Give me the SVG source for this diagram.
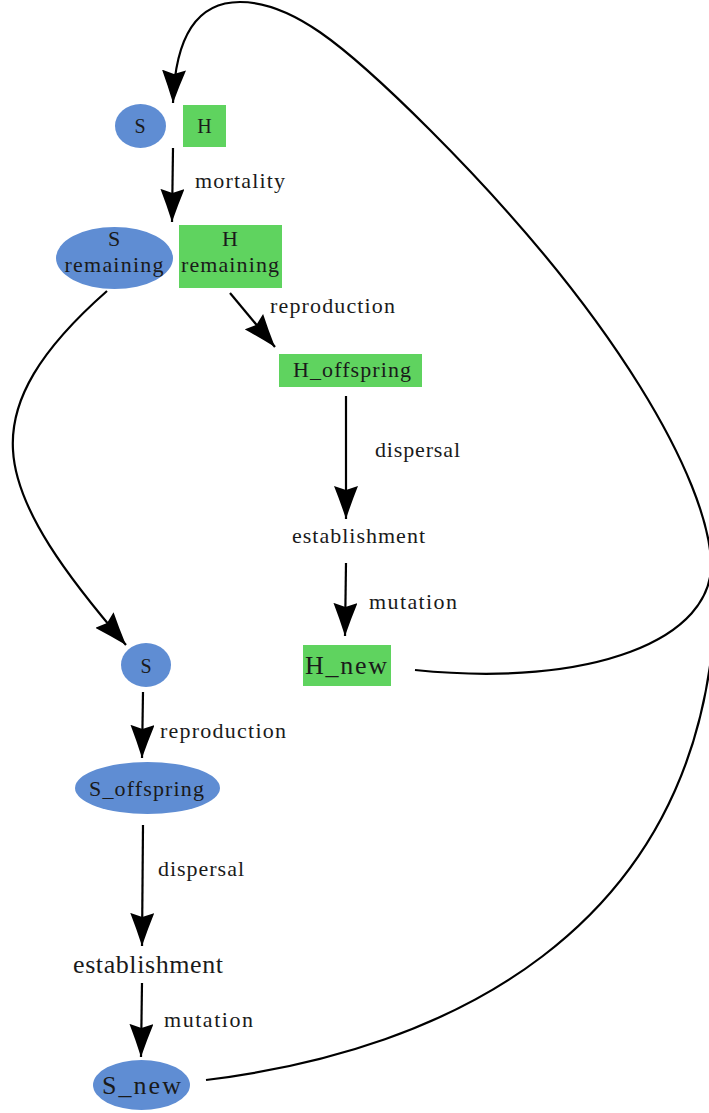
<svg xmlns="http://www.w3.org/2000/svg" width="709" height="1113" viewBox="0 0 709 1113">
<style>
text{font-family:"Liberation Serif","Times New Roman",serif;fill:#1a1a1a}
.lbl{font-size:22px}
.nd{font-size:22px}
.big{font-size:26px}
.sm{font-size:20px}
.c{text-anchor:middle}
.blue{fill:#5f8dd3}
.green{fill:#5fd35f}
.edge{fill:none;stroke:#000;stroke-width:2.2;marker-end:url(#arr)}
</style>
<defs>
<marker id="arr" markerUnits="userSpaceOnUse" markerWidth="33" markerHeight="24" viewBox="0 0 33 24" refX="33" refY="12" orient="auto">
<path d="M33,12 Q15,6 0,0 L4,12 L0,24 Q15,18 33,12 Z" fill="#000"/>
</marker>
</defs>
<g id="edges">
<path class="edge" d="M173,148 L172,222"/>
<path class="edge" d="M230,293 L275,347"/>
<path class="edge" d="M346,396 L346,519"/>
<path class="edge" d="M346,563 L345,636"/>
<path class="edge" d="M107,291 C40,350 10,400 13,450 C16,510 70,580 126,645"/>
<path class="edge" d="M143,692 L142,758"/>
<path class="edge" d="M143,825 L142,946"/>
<path class="edge" d="M142,983 L141,1057"/>
<path class="edge" d="M415,670 C590,688 716,640 711,560 C706,480 620,320 430,130 C340,40 290,2 240,2 C195,2 175,40 173,103"/>
<path fill="none" stroke="#000" stroke-width="2.2" d="M206,1080 C450,1050 690,930 714,630"/>
<text class="lbl" x="195" y="188" textLength="90">mortality</text>
<text class="lbl" x="270" y="313" textLength="125">reproduction</text>
<text class="lbl" x="375" y="457" textLength="85">dispersal</text>
<text class="lbl" x="369" y="609" textLength="88">mutation</text>
<text class="lbl" x="160" y="738" textLength="126">reproduction</text>
<text class="lbl" x="158" y="876" textLength="86">dispersal</text>
<text class="lbl" x="164" y="1027" textLength="89">mutation</text>
</g>
<g id="S_top">
<ellipse class="blue" cx="140.5" cy="126" rx="25.5" ry="22"/>
<text class="sm c" x="140" y="133">S</text>
</g>
<g id="H_top">
<rect class="green" x="183" y="105" width="43" height="42"/>
<text class="sm c" x="204.5" y="133">H</text>
</g>
<g id="S_remaining">
<ellipse class="blue" cx="114.5" cy="258" rx="58.5" ry="31"/>
<text class="nd c" x="114" y="246">S</text>
<text class="nd c" x="114" y="272" textLength="99">remaining</text>
</g>
<g id="H_remaining">
<rect class="green" x="179" y="225" width="103" height="63"/>
<text class="nd c" x="230" y="246">H</text>
<text class="nd c" x="230" y="272" textLength="98">remaining</text>
</g>
<g id="H_offspring">
<rect class="green" x="279" y="354" width="143" height="33"/>
<text class="nd" x="293" y="377" textLength="118">H_offspring</text>
</g>
<g id="H_establishment">
<text class="lbl" x="292" y="543" textLength="133">establishment</text>
</g>
<g id="H_new">
<rect class="green" x="303" y="645" width="88" height="41"/>
<text class="big" x="305" y="674" textLength="82">H_new</text>
</g>
<g id="S_mid">
<ellipse class="blue" cx="146" cy="665" rx="25" ry="22"/>
<text class="sm c" x="146" y="673">S</text>
</g>
<g id="S_offspring">
<ellipse class="blue" cx="147.5" cy="788" rx="72.5" ry="26"/>
<text class="nd" x="89" y="796" textLength="115">S_offspring</text>
</g>
<g id="S_establishment">
<text class="big" x="73" y="973" textLength="150">establishment</text>
</g>
<g id="S_new">
<ellipse class="blue" cx="141.5" cy="1085" rx="48.5" ry="25"/>
<text class="big" x="102" y="1094" textLength="79">S_new</text>
</g>
</svg>
